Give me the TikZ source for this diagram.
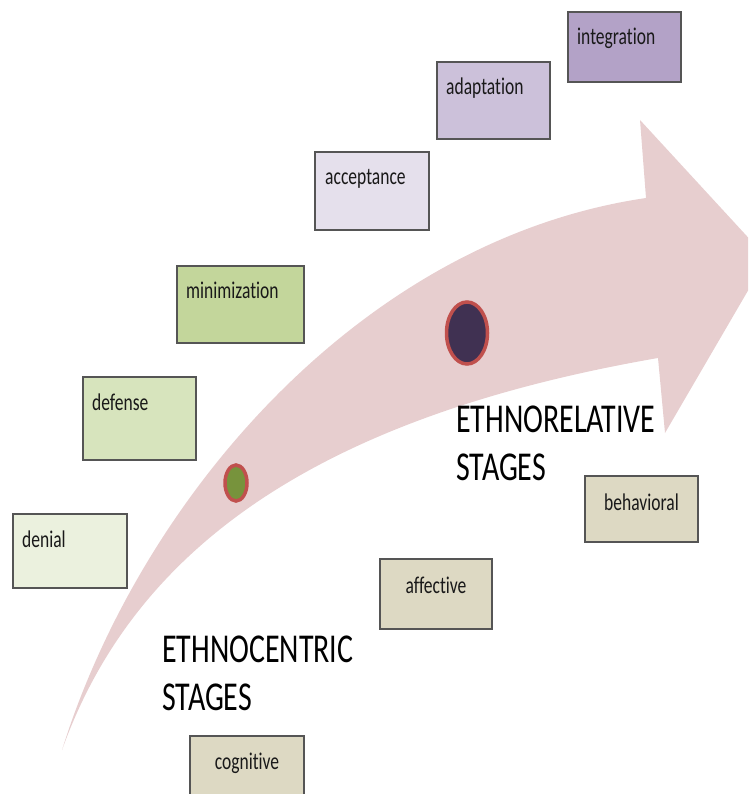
\documentclass[tikz,border=0pt]{standalone}
\usepackage{fontspec}
\setmainfont[FakeStretch=0.73,Ligatures=NoCommon]{Carlito}
\usetikzlibrary{positioning,shapes.geometric,calc}

\definecolor{arrowpink}{RGB}{231,206,207}
\definecolor{boxgray}{RGB}{85,85,85}
\definecolor{labelgray}{RGB}{25,25,25}
\definecolor{greenA}{HTML}{EBF1DE}
\definecolor{greenB}{HTML}{D7E4BD}
\definecolor{greenC}{HTML}{C3D69B}
\definecolor{violetA}{HTML}{E5E0EC}
\definecolor{violetB}{HTML}{CCC1DA}
\definecolor{violetC}{HTML}{B3A2C7}
\definecolor{sandbox}{HTML}{DDD9C3}
\definecolor{dotred}{HTML}{C0504D}
\definecolor{dotgreen}{HTML}{77933C}
\definecolor{dotviolet}{HTML}{403152}

\tikzset{
  stagebox/.style={draw=boxgray, line width=2pt, anchor=north west, inner sep=0pt},
  stagetext/.style={anchor=base west, inner sep=0pt, text=labelgray, font=\fontsize{24}{28}\selectfont},
  modetext/.style={anchor=base, inner sep=0pt, text=labelgray, font=\fontsize{24}{28}\selectfont},
  bigtitle/.style={anchor=north west, inner sep=0pt, align=left, font=\fontsize{41}{48}\selectfont},
  stagedot/.style={ellipse, draw=dotred, line width=3.5pt, inner sep=0pt}
}

\begin{document}
\begin{tikzpicture}[x=1pt,y=-1pt]
\useasboundingbox (0,0) rectangle (748,794);
\begin{scope}
\clip (0,0) rectangle (748,794);
% the curved arrow
\fill[arrowpink] (62,750) .. controls (140,500) and (360,240) .. (646,198)
  -- (640,120) -- (767,258) -- (665,433) -- (658,358)
  .. controls (300,420) and (130,560) .. (62,750) -- cycle;

% ethnocentric stages
\node[stagebox, fill=greenA, minimum width=114pt, minimum height=74pt] (denial) at (12,513) {};
\node[stagetext] (denialtxt) at ([shift={(10,34)}]denial.north west) {denial};
\node[stagebox, fill=greenB, minimum width=113pt, minimum height=83pt] (defense) at (82,376) {};
\node[stagetext] (defensetxt) at ([shift={(10,34)}]defense.north west) {defense};
\node[stagebox, fill=greenC, minimum width=127pt, minimum height=77pt] (minim) at (176,265) {};
\node[stagetext] (minimtxt) at ([shift={(10,33)}]minim.north west) {minimization};

% ethnorelative stages
\node[stagebox, fill=violetA, minimum width=114pt, minimum height=78pt] (accept) at (314,151) {};
\node[stagetext] (accepttxt) at ([shift={(11,34)}]accept.north west) {acceptance};
\node[stagebox, fill=violetB, minimum width=113pt, minimum height=77pt] (adapt) at (436,61) {};
\node[stagetext] (adapttxt) at ([shift={(10,34)}]adapt.north west) {adaptation};
\node[stagebox, fill=violetC, minimum width=113pt, minimum height=70pt] (integr) at (567,11) {};
\node[stagetext] (integrtxt) at ([shift={(10,34)}]integr.north west) {integration};

% dimensions
\node[stagebox, fill=sandbox, minimum width=113pt, minimum height=66pt] (behav) at (584,475) {};
\node[modetext] (behavtxt) at ([shift={(0,35)}]behav.north) {behavioral};
\node[stagebox, fill=sandbox, minimum width=112pt, minimum height=70pt] (affect) at (379,558) {};
\node[modetext] (affecttxt) at ([shift={(0,35)}]affect.north) {affective};
\node[stagebox, fill=sandbox, minimum width=114pt, minimum height=70pt] (cognit) at (189,735) {};
\node[modetext] (cognittxt) at ([shift={(0,34)}]cognit.north) {cognitive};

% dots on the arrow
\node[stagedot, fill=dotgreen, minimum width=22pt, minimum height=36pt] (dotcentric) at (236,483) {};
\node[stagedot, fill=dotviolet, minimum width=41pt, minimum height=62pt] (dotrelative) at (467,333) {};

% titles
\node[bigtitle] (centric) at (162,636) {ETHNOCENTRIC\\STAGES};
\node[bigtitle] (relative) at (456,406) {ETHNORELATIVE\\STAGES};
\end{scope}
\end{tikzpicture}
\end{document}
